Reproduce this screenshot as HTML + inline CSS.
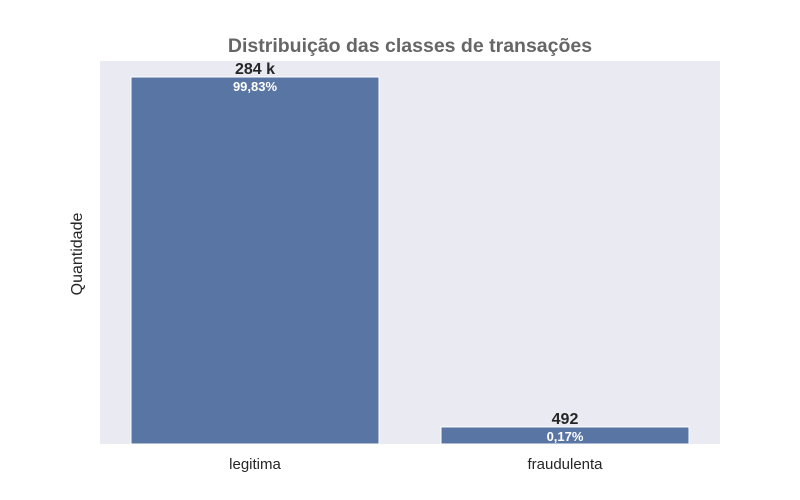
<!DOCTYPE html>
<html><head><meta charset="utf-8"><style>
html,body{margin:0;padding:0;background:#fff;}
svg{display:block;font-family:"Liberation Sans",sans-serif;}
</style></head><body>
<svg id="chart" width="800" height="500">
<rect x="100" y="61" width="620" height="383" fill="#eaeaf2"/>
<text x="410" y="52" text-anchor="middle" font-size="19.5" font-weight="bold" fill="#666">Distribuição das classes de transações</text>
<text transform="translate(82,254) rotate(-90)" text-anchor="middle" font-size="16" fill="#262626">Quantidade</text>
<g id="bars"></g>
</svg>
<script>
const categories = ["legitima", "fraudulenta"];
const values = [284315, 492];
const valueLabels = ["284 k", "492"];
const pctLabels = ["99,83%", "0,17%"];

const svg = document.getElementById('bars');
const NS = 'http://www.w3.org/2000/svg';
const plotL = 100, plotW = 620, baseY = 444;
const logMin = Math.log10(361), logTop = Math.log10(284315), pxTop = 77;
function y(v){ return baseY - (Math.log10(v) - logMin) / (logTop - logMin) * (baseY - pxTop); }
const band = plotW / categories.length, bw = band * 0.8;
function x(i){ return plotL + band * i + (band - bw) / 2; }
function mk(tag, attrs){ const e = document.createElementNS(NS, tag); for (const k in attrs) e.setAttribute(k, attrs[k]); svg.appendChild(e); return e; }
categories.forEach((c, i) => {
  const top = y(values[i]);
  const r = mk('rect', {x: x(i), y: top, width: bw, height: baseY - top, fill: '#5975a4', stroke: '#fff', 'stroke-width': 1});
  
  
  const t = mk('text', {x: x(i) + bw / 2, y: top - 3, 'text-anchor': 'middle', 'font-size': 16, 'font-weight': 'bold', fill: '#262626'});
  t.textContent = valueLabels[i];
  
  
  const p = mk('text', {x: x(i) + bw / 2, y: top + 14, 'text-anchor': 'middle', 'font-size': 13, 'font-weight': 'bold', fill: '#fff'});
  p.textContent = pctLabels[i];
  
  
  const l = mk('text', {x: x(i) + bw / 2, y: 469, 'text-anchor': 'middle', 'font-size': 15, fill: '#262626'});
  l.textContent = c;
  
  
});
</script>
</body></html>
